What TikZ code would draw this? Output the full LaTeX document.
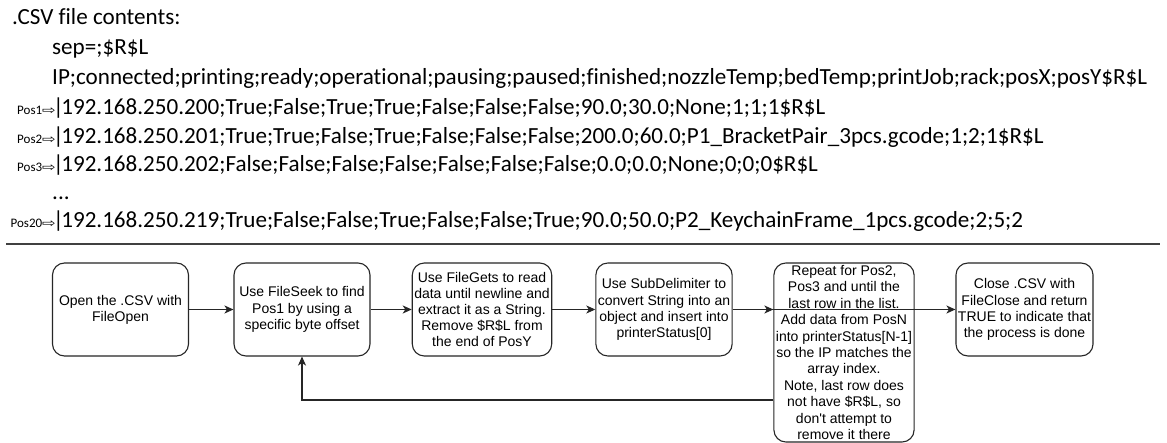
\documentclass[tikz,border=0pt]{standalone}
\usepackage{fontspec}
\usetikzlibrary{arrows.meta}
\newfontfamily\csvfont{Carlito}[Ligatures=CommonOff]
\newfontfamily\boxfont{Liberation Sans}
\newfontfamily\symfont{DejaVu Sans}
\newcommand{\posarrow}{{\symfont\fontsize{12}{14}\selectfont\scalebox{1.35}[1]{⇨}}}
\newcommand{\rowbar}{|\kern-2.5pt}

\begin{document}
\begin{tikzpicture}[x=1pt,y=-1pt,
  csvline/.style={anchor=base west, inner sep=0pt, font=\csvfont\fontsize{23.1}{28}\selectfont},
  poslabel/.style={anchor=base east, inner sep=0pt, font=\csvfont\fontsize{13}{15}\selectfont},
  stepbox/.style={draw=black!85, line width=1.1pt, rounded corners=12pt,
    minimum width=136pt, minimum height=93pt, align=center, inner sep=2pt,
    font=\boxfont\fontsize{14}{16.2}\selectfont},
  flow/.style={-{Stealth[length=9pt,width=8pt,inset=2.5pt]}, line width=1.1pt, draw=black!85}
]
\useasboundingbox[fill=white] (0,0) rectangle (1167,443);

% file contents listing
\node[csvline] (title) at (12,25) {.CSV file contents:};
\node[csvline] (sep) at (52,55) {sep=;\$R\$L};
\node[csvline] (hdr) at (52,85) {IP;connected;printing;ready;operational;pausing;paused;finished;nozzleTemp;bedTemp;printJob;rack;posX;posY\$R\$L};
\node[poslabel] (l1) at (56,115) {Pos1\posarrow};
\node[csvline] (r1) at (53,115) {\rowbar 192.168.250.200;True;False;True;True;False;False;False;90.0;30.0;None;1;1;1\$R\$L};
\node[poslabel] (l2) at (56,144) {Pos2\posarrow};
\node[csvline] (r2) at (53,144) {\rowbar 192.168.250.201;True;True;False;True;False;False;False;200.0;60.0;P1\_BracketPair\_3pcs.gcode;1;2;1\$R\$L};
\node[poslabel] (l3) at (56,172) {Pos3\posarrow};
\node[csvline] (r3) at (53,172) {\rowbar 192.168.250.202;False;False;False;False;False;False;False;0.0;0.0;None;0;0;0\$R\$L};
\node[csvline] (dots) at (52,200) {...};
\node[poslabel] (l20) at (56,228) {Pos20\posarrow};
\node[csvline] (r20) at (53,228) {\rowbar 192.168.250.219;True;False;False;True;False;False;True;90.0;50.0;P2\_KeychainFrame\_1pcs.gcode;2;5;2};

% separator
\draw[line width=2.5pt, draw=black!75] (6,244) -- (1160,244);

% process steps
\node[stepbox] (b1) at (120.5,309.5) {Open the .CSV with\\FileOpen};
\node[stepbox] (b2) at (302,309.5) {Use FileSeek to find\\Pos1 by using a\\specific byte offset};
\node[stepbox] (b3) at (482,309.5) {Use FileGets to read\\data until newline and\\extract it as a String.\\Remove \$R\$L from\\the end of PosY};
\node[stepbox] (b4) at (664,309.5) {Use SubDelimiter to\\convert String into an\\object and insert into\\printerStatus[0]};
\node[stepbox, minimum width=138pt, minimum height=179pt, font=\boxfont\fontsize{14}{16.4}\selectfont] (b5) at (844,352.5) {Repeat for Pos2,\\Pos3 and until the\\last row in the list.\\Add data from PosN\\into printerStatus[N-1]\\so the IP matches the\\array index.\\Note, last row does\\not have \$R\$L, so\\don't attempt to\\remove it there};
\node[stepbox, minimum width=137pt] (b6) at (1024.5,309.5) {Close .CSV with\\FileClose and return\\TRUE to indicate that\\the process is done};

\draw[flow] (b1) -- (b2);
\draw[flow] (b2) -- (b3);
\draw[flow] (b3) -- (b4);
\draw[flow] (b4) -- (b4 -| b5.west);
\draw[flow] (b5.west |- b6.west) -- (b6.west);
\draw[flow] ([yshift=-47.5pt]b5.west) -| (b2.south);
\end{tikzpicture}
\end{document}
